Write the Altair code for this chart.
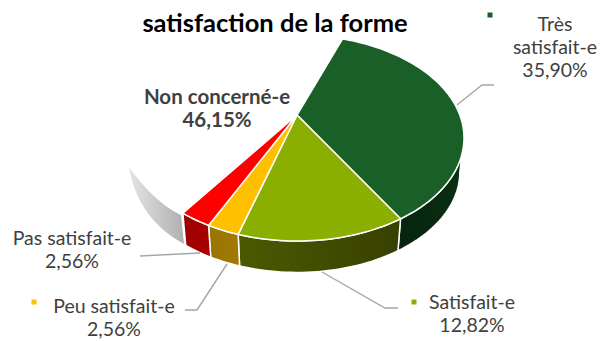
import math
import altair as alt

categories = ["Très satisfait-e", "Satisfait-e", "Peu satisfait-e", "Pas satisfait-e", "Non concerné-e"]
values = [35.90, 12.82, 2.56, 2.56, 46.15]
value_labels = ["35,90%", "12,82%", "2,56%", "2,56%", "46,15%"]
top_colors = ["#1a5f27", "#8aaf00", "#ffc000", "#ff0000", "#ffffff"]
wall_colors = [("#0a2f12", "#06240f"), ("#384000", "#4b5a00"), ("#a07a00", "#9a7400"), ("#a80000", "#a00000")]
title_lines = ["satisfaction de la forme"]

W, H = 609, 341
OFF = 8  # page margin
START = 19.8  # first slice angle, degrees clockwise from the top
NUDGE = 1.3  # the small slices sit slightly further round in the perspective
CX, CY, A, B, APEX = 297.0, 138.0, 167.0, 103.0, -23.0
K = APEX / B * 1.0
R = A * math.sqrt(1 - K * K)
DEPTH, SHRINK = 34.0, 0.975


def project(deg, depth=False, radius=1.0):
    t = math.radians(deg)
    X, Y = radius * math.sin(t), -radius * math.cos(t)
    d = 1 + K * Y
    px, py = R * X / d, (B * Y + APEX) / d
    if depth:
        return [CX + SHRINK * px, CY + DEPTH + SHRINK * py]
    return [CX + px, CY + py]


def arc(a0, a1, depth=False):
    n = max(2, int(abs(a1 - a0) / 1.5) + 1)
    return [project(a0 + (a1 - a0) * i / n, depth) for i in range(n + 1)]


def bezier(p0, c, p1, n=24):
    out = []
    for i in range(n + 1):
        s = i / n
        out.append([(1 - s) ** 2 * p0[j] + 2 * s * (1 - s) * c[j] + s * s * p1[j] for j in range(2)])
    return out


def feature(points):
    ring = points + [points[0]]
    return {"type": "Feature", "properties": {},
            "geometry": {"type": "Polygon", "coordinates": [ring]}}


def project_layer(chart):
    return chart.project(type="identity", scale=1, translate=[-OFF, -OFF])


def shape(points):
    return alt.Chart(alt.Data(values=[feature(points)], format=alt.DataFormat(type="json")))


bounds = []
a = START
for i, v in enumerate(values):
    b = a + v / sum(values) * 360
    bounds.append((a + (NUDGE if i in (2, 3, 4) else 0), b + (NUDGE if i in (1, 2, 3) else 0)))
    a = b

layers = []
SIL_R = 103.0  # where the wall leaves the top ellipse on the right
for i, (a0, b0) in enumerate(bounds[:4]):
    lo = max(a0, SIL_R)
    poly = arc(lo, b0) + arc(b0, lo, True)
    c0, c1 = wall_colors[i]
    fill = alt.Gradient(gradient="linear", x1=1, x2=0, y1=0, y2=0,
                        stops=[alt.GradientStop(color=c0, offset=0), alt.GradientStop(color=c1, offset=1)])
    layers.append(project_layer(shape(poly).mark_geoshape(fill=fill, stroke="#ffffff", strokeWidth=1.5)))

# grey wall of the empty "Non concerné-e" slice
tip, top_end, bottom_end = (129, 167), (181, 215), (184, 244)
grey = bezier(tip, (155, 203), top_end) + bezier(bottom_end, (137.5, 218.5), tip)
grey_fill = alt.Gradient(gradient="linear", x1=1, x2=0, y1=0, y2=0,
                         stops=[alt.GradientStop(color="#b0b0b0", offset=0), alt.GradientStop(color="#e4e4e4", offset=1)])
layers.append(project_layer(shape(grey).mark_geoshape(fill=grey_fill, strokeWidth=0)))

for i, (a0, b0) in enumerate(bounds[:4]):
    poly = [project(0, radius=0)] + arc(a0, b0)
    layers.append(project_layer(shape(poly).mark_geoshape(fill=top_colors[i], stroke="#ffffff", strokeWidth=1.5)))

leaders = [[(457, 105), (482, 85), (494, 85)],
           [(322, 272), (385, 308), (398, 308)],
           [(227, 264), (197, 310), (185, 310)],
           [(200, 253), (140, 256)]]
for pts in leaders:
    seg = alt.Data(values=[{"type": "Feature", "properties": {},
                            "geometry": {"type": "LineString", "coordinates": [list(p) for p in pts]}}],
                   format=alt.DataFormat(type="json"))
    layers.append(project_layer(alt.Chart(seg).mark_geoshape(filled=False, stroke="#a6a6a6", strokeWidth=1.4)))

FONT = "Lato"


def text(lines, x, y, size=19.5, color="#404040", bold=False):
    return alt.Chart(alt.Data(values=[{"t": l} for l in lines])).mark_text(
        font=FONT, fontSize=size, color=color, fontWeight="bold" if bold else "normal",
        align="center", baseline="middle"
    ).encode(text="t:N", x=alt.value(x - OFF), y=alt.value(y - OFF))


def label(i, x, y, split=False, lh=23, **kw):
    name = categories[i].split(" ") if split else [categories[i]]
    return [text([l], x, y + j * lh, **kw) for j, l in enumerate(name + [value_labels[i]])]


layers += label(0, 555, 25, split=True)
layers += label(1, 472, 303)
layers += label(2, 114, 307)
layers += label(3, 72, 239)
layers += label(4, 217, 98, bold=True, size=20.5)
layers.append(text(title_lines, 275, 23.5, size=25.5, color="#000000", bold=True))

for c, x, y in [(top_colors[0], 490, 15), (top_colors[1], 414, 302), (top_colors[2], 34, 302)]:
    layers.append(alt.Chart(alt.Data(values=[{"k": 1}])).mark_square(size=25, color=c, opacity=1)
                  .encode(x=alt.value(x - OFF), y=alt.value(y - OFF)))

chart = alt.layer(*layers).properties(width=W - 16, height=H - 16, padding=0, background="#ffffff") \
    .configure_view(stroke=None)
chart.save("out.html", embed_options={"renderer": "svg", "actions": False})
